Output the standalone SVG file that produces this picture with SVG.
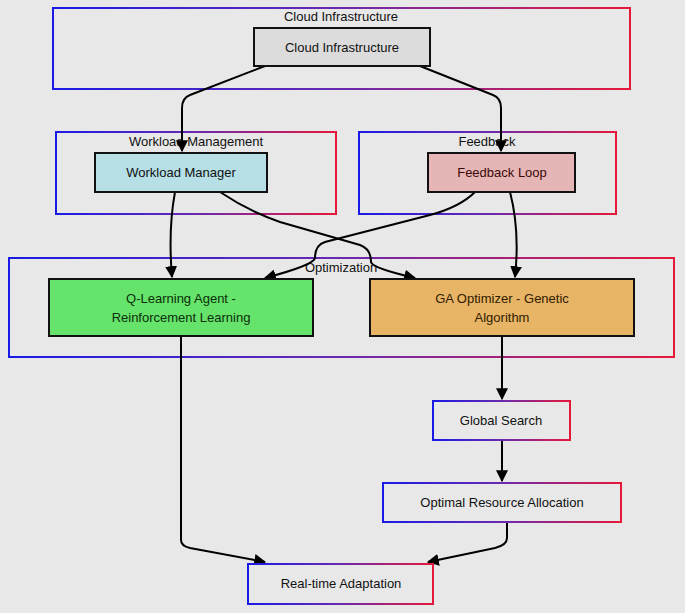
<svg xmlns="http://www.w3.org/2000/svg" width="685" height="613" viewBox="0 0 685 613">
<defs>
<linearGradient id="g" x1="0" y1="0" x2="1" y2="0"><stop offset="0" stop-color="#1a1ae6"/><stop offset="0.5" stop-color="#6a2ab0"/><stop offset="1" stop-color="#e6183a"/></linearGradient>
<marker id="a" viewBox="0 0 10 10" refX="9" refY="5" markerWidth="6" markerHeight="6" orient="auto"><path d="M0,0L10,5L0,10z" fill="#000"/></marker>
<style>
.c{fill:none;stroke:url(#g);stroke-width:2}
.n{stroke:#111;stroke-width:2}
.p{fill:#e8e8e8;stroke:url(#g);stroke-width:2}
text{font-family:"Liberation Sans",Arial,sans-serif;font-size:13px;fill:#111;text-anchor:middle}
.e path{fill:none;stroke:#000;stroke-width:2;marker-end:url(#a)}
</style>
</defs>
<rect width="685" height="613" fill="#e8e8e8"/>
<g id="clusters">
<rect class="c" x="53" y="8" width="577" height="81"/><text x="341" y="21">Cloud Infrastructure</text>
<rect class="c" x="56" y="132" width="280" height="82"/><text x="196" y="146">Workload Management</text>
<rect class="c" x="359" y="132" width="257" height="82"/><text x="487" y="146">Feedback</text>
<rect class="c" x="9" y="258" width="665" height="99"/><text x="341" y="272">Optimization</text>
</g>
<g class="e" id="edges">
<path d="M265,66 L190,95 Q182,98 182,108 L182,151"/>
<path d="M420,66 L493,95 Q501,98 501,108 L501,151"/>
<path d="M175,192 Q168,230 172,277"/>
<path d="M220,192 Q250,212 280,222 L360,245 Q371,249 371,262 Q372,268 415,278"/>
<path d="M475,192 Q460,207 430,215 L325,242 Q315,245 315,258 Q314,265 265,278"/>
<path d="M510,192 Q520,230 515,277"/>
<path d="M181,336 L181,540 Q181,546 190,548 L265,562"/>
<path d="M502,336 L502,399"/>
<path d="M502,440 L502,481"/>
<path d="M507,522 L507,538 Q507,545 495,548 L428,562"/>
</g>
<g id="cloud"><rect class="n" x="254" y="28" width="176" height="38" fill="#dcdcdc"/><text x="342" y="52">Cloud Infrastructure</text></g>
<g id="wm"><rect class="n" x="95" y="153" width="172" height="39" fill="#b6dfe6"/><text x="181" y="177">Workload Manager</text></g>
<g id="fb"><rect class="n" x="428" y="153" width="147" height="39" fill="#e6b5b5"/><text x="502" y="177" style="fill:#3a0a0a">Feedback Loop</text></g>
<g id="ql"><rect class="n" x="49" y="279" width="264" height="57" fill="#66e36a"/><text x="181" y="303" style="fill:#0a300a">Q-Learning Agent -</text><text x="181" y="322" style="fill:#0a300a">Reinforcement Learning</text></g>
<g id="ga"><rect class="n" x="370" y="279" width="264" height="57" fill="#e8b466"/><text x="502" y="303" style="fill:#302000">GA Optimizer - Genetic</text><text x="502" y="322" style="fill:#302000">Algorithm</text></g>
<g id="gs"><rect class="p" x="433" y="401" width="137" height="39"/><text x="501" y="425">Global Search</text></g>
<g id="ora"><rect class="p" x="383" y="483" width="238" height="39"/><text x="502" y="507">Optimal Resource Allocation</text></g>
<g id="rt"><rect class="p" x="248" y="564" width="185" height="40"/><text x="341" y="588">Real-time Adaptation</text></g>
</svg>
